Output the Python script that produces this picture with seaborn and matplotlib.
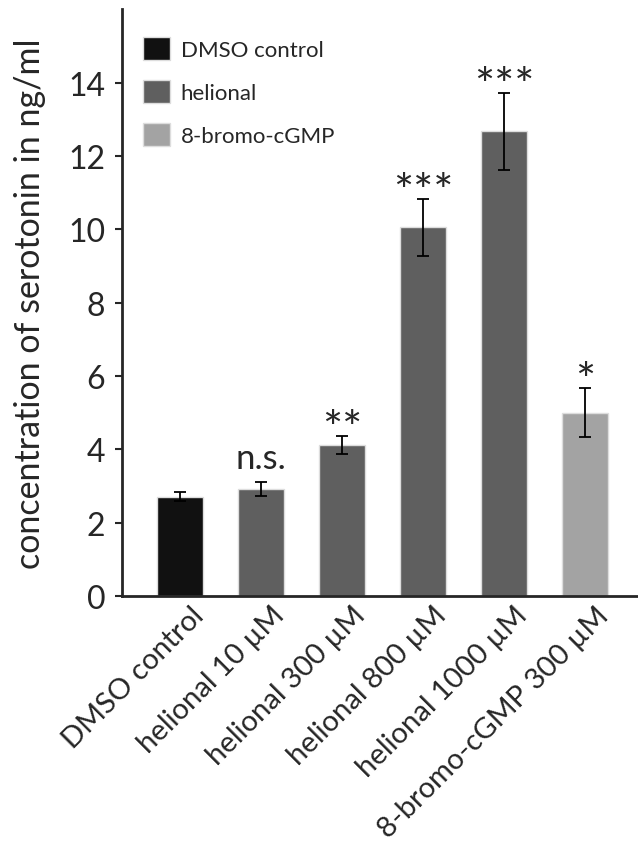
import matplotlib
matplotlib.use("Agg")
import matplotlib.pyplot as plt
import matplotlib.transforms as mtransforms
import pandas as pd
import seaborn as sns

categories = ["DMSO control", "helional 10 µM", "helional 300 µM",
              "helional 800 µM", "helional 1000 µM", "8-bromo-cGMP 300 µM"]
groups = ["DMSO control", "helional", "helional", "helional", "helional", "8-bromo-cGMP"]
means = [2.71, 2.92, 4.11, 10.05, 12.67, 5.00]
errors = [0.13, 0.20, 0.24, 0.78, 1.05, 0.66]
marks = ["", "n.s.", "**", "***", "***", "*"]
palette = {"DMSO control": "#111111", "helional": "#5f5f5f", "8-bromo-cGMP": "#a3a3a3"}

df = pd.DataFrame({"cond": categories, "group": groups, "mean": means})

sns.set_style("ticks")
plt.rcParams["font.family"] = ["Lato", "DejaVu Sans"]

fig = plt.figure(figsize=(6.38, 8.54), dpi=100)
ax = fig.add_axes([0.191, 0.301, 0.809, 0.687])

sns.barplot(data=df, x="cond", y="mean", hue="group", palette=palette,
            dodge=False, width=0.57, edgecolor="#dddddd", linewidth=1,
            errorbar=None, ax=ax)
ax.errorbar(range(len(means)), means, yerr=errors, fmt="none",
            ecolor="black", elinewidth=1.3, capsize=4, capthick=1.3)

for i, (m, e, s) in enumerate(zip(means, errors, marks)):
    if s == "n.s.":
        ax.text(i, m + e + 0.2, s, ha="center", va="bottom", fontsize=25)
    elif s:
        ax.annotate(s, (i, m + e), xytext=(0, -5), textcoords="offset points",
                    ha="center", va="baseline", fontsize=34)

ax.set_ylim(0, 16)
ax.set_xlim(-0.72, 5.65)
ax.set_yticks([0, 2, 4, 6, 8, 10, 12, 14])
ax.tick_params(axis="y", labelsize=23, length=5, width=1.5, pad=7)
ax.tick_params(axis="x", length=0, labelsize=21, pad=4)
ax.set_xticks(range(len(categories)))
ax.set_xticklabels(categories, rotation=45, ha="right", rotation_mode="anchor")
shift = mtransforms.ScaledTranslation(10 / 100, 0, fig.dpi_scale_trans)
for lab in ax.get_xticklabels():
    lab.set_transform(lab.get_transform() + shift)
ax.set_xlabel("")
ax.set_ylabel("concentration of serotonin in ng/ml", fontsize=24.5, labelpad=16)
for side in ["top", "right"]:
    ax.spines[side].set_visible(False)
for side in ["left", "bottom"]:
    ax.spines[side].set_linewidth(2)

leg = ax.legend(loc="upper left", bbox_to_anchor=(0.041, 0.952), frameon=False,
                fontsize=16, handlelength=1.2, handleheight=1.2,
                labelspacing=0.9, handletextpad=0.5, borderaxespad=0, borderpad=0)

fig.savefig("out.png", dpi=100)
